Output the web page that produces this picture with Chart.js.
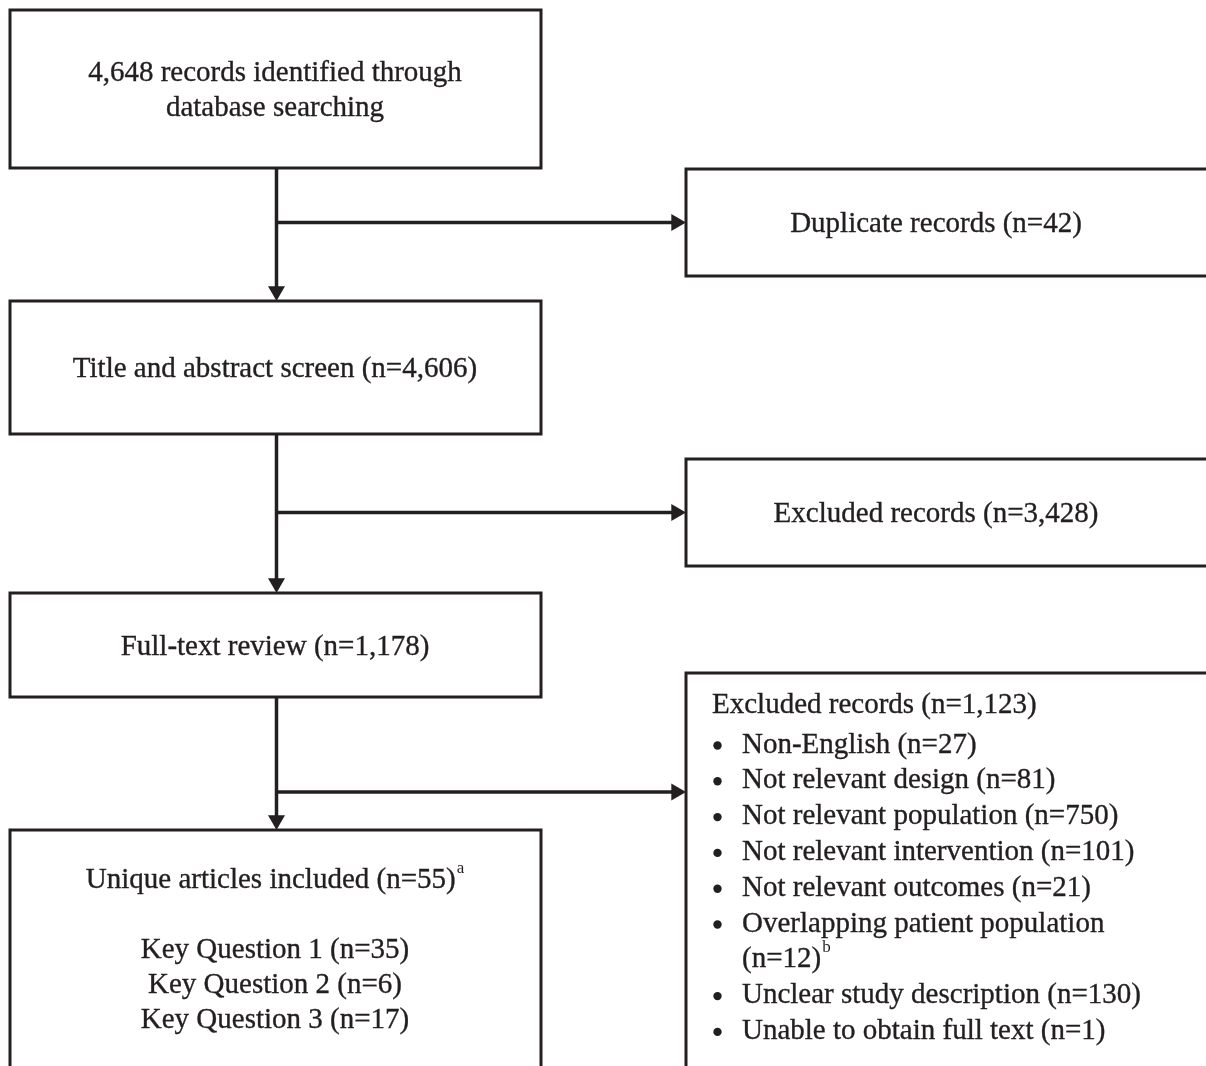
<!DOCTYPE html>
<html lang="en">
<head>
    <meta charset="UTF-8">
    <meta name="viewport" content="width=device-width, initial-scale=1.0">
    <title>Study selection flow</title>
    <script src="https://cdn.jsdelivr.net/npm/chart.js@4.4.1/dist/chart.umd.min.js"></script>
    <style>
        html, body { margin: 0; padding: 0; background: #fff; }
        canvas { display: block; }
    </style>
</head>
<body>
    <canvas id="chart" width="1206" height="1066"></canvas>

    <script>
        // counts
        const stageNames = ['records identified through database searching', 'Title and abstract screen', 'Full-text review', 'Unique articles included'];
        const stageCounts = [4648, 4606, 1178, 55];
        const stageNotes = ['', '', '', 'a'];

        const removedNames = ['Duplicate records', 'Excluded records', 'Excluded records'];
        const removedCounts = [42, 3428, 1123];

        const reasonNames = ['Non-English', 'Not relevant design', 'Not relevant population', 'Not relevant intervention', 'Not relevant outcomes', 'Overlapping patient population', 'Unclear study description', 'Unable to obtain full text'];
        const reasonCounts = [27, 81, 750, 101, 21, 12, 130, 1];
        const reasonNotes = ['', '', '', '', '', 'b', '', ''];

        const questionNames = ['Key Question 1', 'Key Question 2', 'Key Question 3'];
        const questionCounts = [35, 6, 17];

        // layout, in chart units (the axes run 0..1206 and 0..1066)
        const INK = '#231f20';
        const FONT = '29px "Liberation Serif", "Times New Roman", serif';
        const NOTE_FONT = '17px "Liberation Serif", "Times New Roman", serif';
        const CAP = 19.2;
        const leftCol = [10, 541];
        const rightCol = [686, 1230];
        const stageRows = [[10, 168], [301, 434], [593, 697], [830, 1090]];
        const removedRows = [[169, 276], [459, 566], [673, 1090]];
        const spineX = 276.5;
        const branchY = [222.5, 512.5, 792];
        const headR = 9.8;

        const fmt = n => n.toLocaleString('en-US');

        // closed outline; the first side is repeated so every corner gets a mitre join
        function rect(l, t, r, b) {
            return [{x: l, y: t}, {x: r, y: t}, {x: r, y: b}, {x: l, y: b}, {x: l, y: t}, {x: r, y: t}];
        }

        function outline(points, width) {
            return {
                data: points,
                showLine: true,
                borderColor: INK,
                borderWidth: width,
                borderJoinStyle: 'miter',
                pointRadius: 0,
                tension: 0,
                fill: false
            };
        }

        const datasets = [];
        stageRows.forEach(([t, b]) => datasets.push(outline(rect(leftCol[0], t, leftCol[1], b), 3)));
        removedRows.forEach(([t, b]) => datasets.push(outline(rect(rightCol[0], t, rightCol[1], b), 3)));

        // spine segments between stage boxes and side branches
        const downHeads = [];
        const rightHeads = [];
        for (let i = 0; i < 3; i++) {
            const top = stageRows[i][1];
            const tip = stageRows[i + 1][0];
            datasets.push(outline([{x: spineX, y: top}, {x: spineX, y: tip - headR}], 3.5));
            datasets.push(outline([{x: spineX, y: branchY[i]}, {x: rightCol[0] - headR, y: branchY[i]}], 3.5));
            downHeads.push({x: spineX, y: tip - headR});
            rightHeads.push({x: rightCol[0] - headR, y: branchY[i]});
        }
        datasets.push({
            data: downHeads, pointStyle: 'triangle', rotation: 180, pointRadius: headR,
            backgroundColor: INK, borderWidth: 0, showLine: false
        });
        datasets.push({
            data: rightHeads, pointStyle: 'triangle', rotation: 90, pointRadius: headR,
            backgroundColor: INK, borderWidth: 0, showLine: false
        });

        function wrap(ctx, text, maxWidth) {
            const words = text.split(' ');
            const lines = [];
            let cur = '';
            words.forEach(w => {
                const test = cur ? cur + ' ' + w : w;
                if (cur && ctx.measureText(test).width > maxWidth) {
                    lines.push(cur);
                    cur = w;
                } else {
                    cur = test;
                }
            });
            if (cur) lines.push(cur);
            return lines;
        }

        function putLine(ctx, text, note, x, y, align) {
            ctx.font = FONT;
            const w = ctx.measureText(text).width;
            ctx.font = NOTE_FONT;
            const nw = note ? ctx.measureText(note).width + 1 : 0;
            const start = align === 'center' ? x - (w + nw) / 2 : x;
            ctx.textAlign = 'left';
            ctx.font = FONT;
            ctx.fillText(text, start, y);
            ctx.strokeText(text, start, y);
            if (note) {
                ctx.font = NOTE_FONT;
                ctx.fillText(note, start + w + 1, y - 15);
            }
        }

        const flowText = {
            id: 'flowText',
            afterDatasetsDraw(chart) {
                const ctx = chart.ctx;
                const px = v => chart.scales.x.getPixelForValue(v);
                const py = v => chart.scales.y.getPixelForValue(v);
                ctx.save();
                ctx.fillStyle = INK;
                ctx.strokeStyle = INK;
                ctx.lineWidth = 0.35;
                ctx.textBaseline = 'alphabetic';
                ctx.font = FONT;

                const leftX = px((leftCol[0] + leftCol[1]) / 2) - 0.5;
                const rightX = px(936);

                // stage boxes
                stageNames.forEach((name, i) => {
                    const label = i === 0 ? fmt(stageCounts[i]) + ' ' + name : name + ' (n=' + fmt(stageCounts[i]) + ')';
                    if (i === 3) {
                        let y = 888;
                        putLine(ctx, label, stageNotes[i], leftX, py(y), 'center');
                        y += 70;
                        questionNames.forEach((q, k) => {
                            putLine(ctx, q + ' (n=' + fmt(questionCounts[k]) + ')', '', leftX, py(y), 'center');
                            y += 35;
                        });
                        return;
                    }
                    ctx.font = FONT;
                    const lines = wrap(ctx, label, 420);
                    const [t, b] = stageRows[i];
                    let y = (t + b) / 2 - (lines.length - 1) * 35 / 2 + CAP / 2;
                    lines.forEach((ln, k) => {
                        putLine(ctx, ln, k === lines.length - 1 ? stageNotes[i] : '', leftX, py(y), 'center');
                        y += 35;
                    });
                });

                // removed boxes
                removedNames.forEach((name, i) => {
                    const label = name + ' (n=' + fmt(removedCounts[i]) + ')';
                    if (i < 2) {
                        const [t, b] = removedRows[i];
                        putLine(ctx, label, '', rightX, py((t + b) / 2 + CAP / 2), 'center');
                        return;
                    }
                    putLine(ctx, label, '', px(712), py(713), 'left');
                    let y = 752.5;
                    reasonNames.forEach((r, k) => {
                        ctx.font = FONT;
                        const lines = wrap(ctx, r + ' (n=' + fmt(reasonCounts[k]) + ')', 420);
                        ctx.beginPath();
                        ctx.arc(px(717.5), py(y - 7), 4.2, 0, Math.PI * 2);
                        ctx.fill();
                        lines.forEach((ln, j) => {
                            putLine(ctx, ln, j === lines.length - 1 ? reasonNotes[k] : '', px(742), py(y), 'left');
                            y += 35.8;
                        });
                    });
                });
                ctx.restore();
            }
        };

        const ctx = document.getElementById('chart').getContext('2d');
        const flowChart = new Chart(ctx, {
            type: 'scatter',
            data: { datasets: datasets },
            options: {
                responsive: false,
                animation: false,
                layout: { padding: 0, autoPadding: false },
                plugins: {
                    legend: { display: false },
                    tooltip: { enabled: false }
                },
                scales: {
                    x: { type: 'linear', min: 0, max: 1206, display: false },
                    y: { type: 'linear', min: 0, max: 1066, reverse: true, display: false }
                }
            },
            plugins: [flowText]
        });
    </script>
</body>
</html>
